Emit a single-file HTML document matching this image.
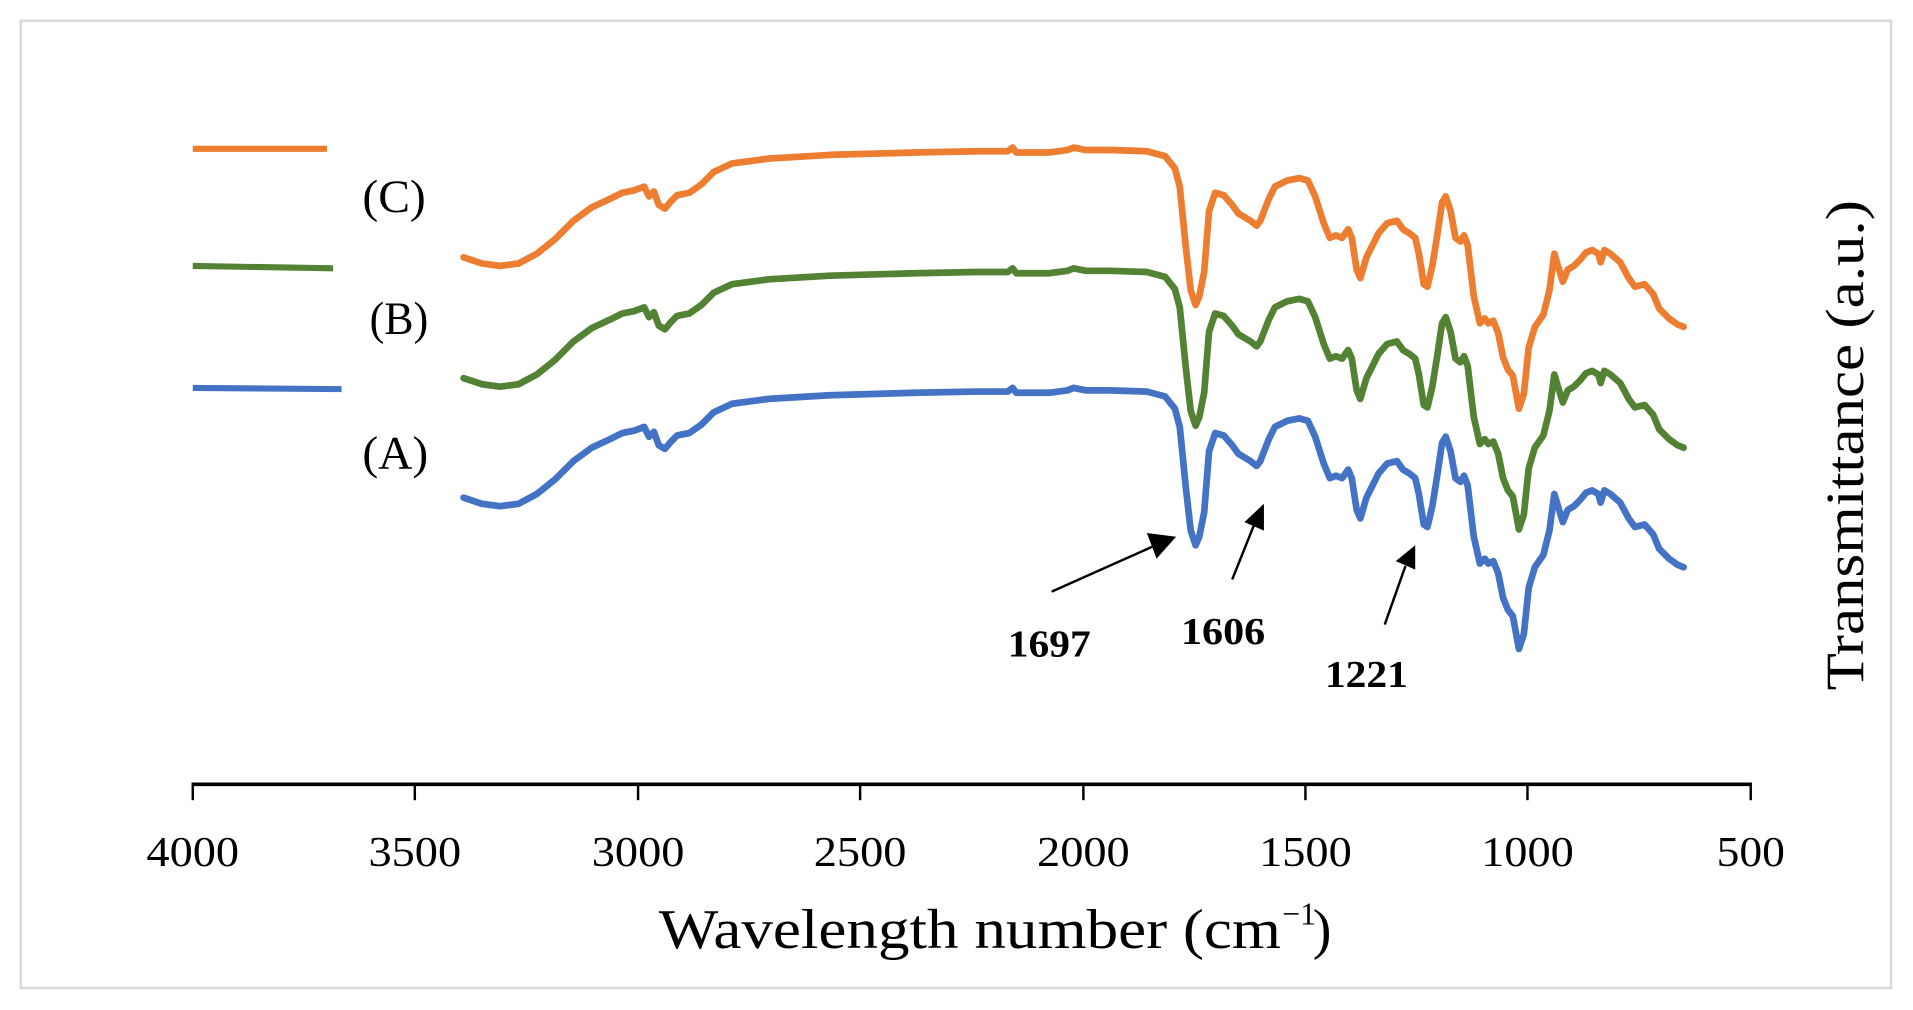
<!DOCTYPE html>
<html><head><meta charset="utf-8"><style>
html,body{margin:0;padding:0;background:#fff;}
svg{display:block;}
text{font-family:"Liberation Serif",serif;}
</style></head><body>
<svg width="1913" height="1010" viewBox="0 0 1568 828" preserveAspectRatio="none">
<rect x="17" y="17" width="1533" height="793" fill="#fff" stroke="#d9d9d9" stroke-width="2"/>
<defs>
<polyline id="sp" fill="none" stroke-width="5.5" stroke-linejoin="round" stroke-linecap="round" points="380,408 395,413 410,415 425,413 440,405 455,393 470,378 485,367 500,360 510,355 520,353 528,350 532,358 536,354 540,365 545,368 550,362 555,357 565,355 575,348 585,338 600,331 630,327 680,324 750,322 800,321 826,321 830,318 833,322 860,322 875,320 880,318 890,320 910,320 940,321 955,325 963,335 967,350 972,400 976,435 980,447 983,440 987,420 991,370 996,355 1003,357 1010,365 1015,372 1020,375 1025,378 1030,382 1033,378 1040,360 1045,350 1055,345 1065,343 1072,345 1078,358 1085,380 1090,392 1095,390 1100,392 1105,385 1108,392 1112,418 1115,425 1120,408 1125,398 1130,388 1137,380 1145,378 1150,385 1155,388 1160,392 1163,405 1167,430 1170,432 1174,415 1178,390 1182,363 1185,358 1189,370 1193,392 1197,395 1200,390 1203,398 1208,440 1213,462 1217,458 1220,462 1224,460 1228,470 1232,490 1236,500 1240,505 1245,532 1249,520 1253,482 1258,465 1265,455 1270,435 1274,405 1277,415 1281,428 1285,418 1290,415 1295,410 1300,404 1305,402 1310,405 1312,412 1315,402 1320,405 1328,412 1335,425 1340,432 1348,430 1355,438 1360,450 1368,458 1375,463 1380,465"/>
</defs>
<use href="#sp" stroke="#4472c4"/>
<use href="#sp" stroke="#548235" transform="translate(0,-98)"/>
<use href="#sp" stroke="#ed7d31" transform="translate(0,-197)"/>
<line x1="158" y1="318" x2="280" y2="319" stroke="#4472c4" stroke-width="5"/>
<line x1="158" y1="218" x2="273" y2="220" stroke="#548235" stroke-width="5"/>
<line x1="158" y1="122" x2="268" y2="122" stroke="#ed7d31" stroke-width="5"/>
<text x="297" y="174" font-size="38" textLength="52" lengthAdjust="spacingAndGlyphs">(C)</text>
<text x="303" y="274" font-size="38" textLength="48" lengthAdjust="spacingAndGlyphs">(B)</text>
<text x="297" y="384" font-size="38" textLength="54" lengthAdjust="spacingAndGlyphs">(A)</text>
<g stroke="#000" stroke-width="2">
<line x1="862" y1="485" x2="945" y2="448"/>
<line x1="1010" y1="475" x2="1028" y2="430"/>
<line x1="1135" y1="512" x2="1152" y2="464"/>
</g>
<polygon points="964,440 940,437 948,458" fill="#000"/>
<polygon points="1036,413 1020,428 1036,435" fill="#000"/>
<polygon points="1160,447 1144,460 1160,467" fill="#000"/>
<g font-size="31" font-weight="bold">
<text x="826" y="538" textLength="68" lengthAdjust="spacingAndGlyphs">1697</text>
<text x="968" y="528" textLength="69" lengthAdjust="spacingAndGlyphs">1606</text>
<text x="1086" y="563" textLength="68" lengthAdjust="spacingAndGlyphs">1221</text>
</g>
<line x1="157" y1="643" x2="1436" y2="643" stroke="#000" stroke-width="3"/>
<g stroke="#000" stroke-width="2">
<line x1="158" y1="643" x2="158" y2="656"/><line x1="340" y1="643" x2="340" y2="656"/>
<line x1="523" y1="643" x2="523" y2="656"/><line x1="705" y1="643" x2="705" y2="656"/>
<line x1="888" y1="643" x2="888" y2="656"/><line x1="1070" y1="643" x2="1070" y2="656"/>
<line x1="1252" y1="643" x2="1252" y2="656"/><line x1="1435" y1="643" x2="1435" y2="656"/>
</g>
<g font-size="35">
<text x="120" y="710" textLength="76" lengthAdjust="spacingAndGlyphs">4000</text>
<text x="302" y="710" textLength="76" lengthAdjust="spacingAndGlyphs">3500</text>
<text x="485" y="710" textLength="76" lengthAdjust="spacingAndGlyphs">3000</text>
<text x="667" y="710" textLength="76" lengthAdjust="spacingAndGlyphs">2500</text>
<text x="850" y="710" textLength="76" lengthAdjust="spacingAndGlyphs">2000</text>
<text x="1032" y="710" textLength="76" lengthAdjust="spacingAndGlyphs">1500</text>
<text x="1214" y="710" textLength="76" lengthAdjust="spacingAndGlyphs">1000</text>
<text x="1407" y="710" textLength="56" lengthAdjust="spacingAndGlyphs">500</text>
</g>
<text x="540" y="777" font-size="46" textLength="510" lengthAdjust="spacingAndGlyphs">Wavelength number (cm</text>
<text x="1051" y="758" font-size="26">−1</text>
<text x="1076" y="777" font-size="46">)</text>
<text transform="translate(1527,365) rotate(-90)" font-size="44" text-anchor="middle" textLength="402" lengthAdjust="spacingAndGlyphs">Transmittance (a.u.)</text>
</svg>
</body></html>
